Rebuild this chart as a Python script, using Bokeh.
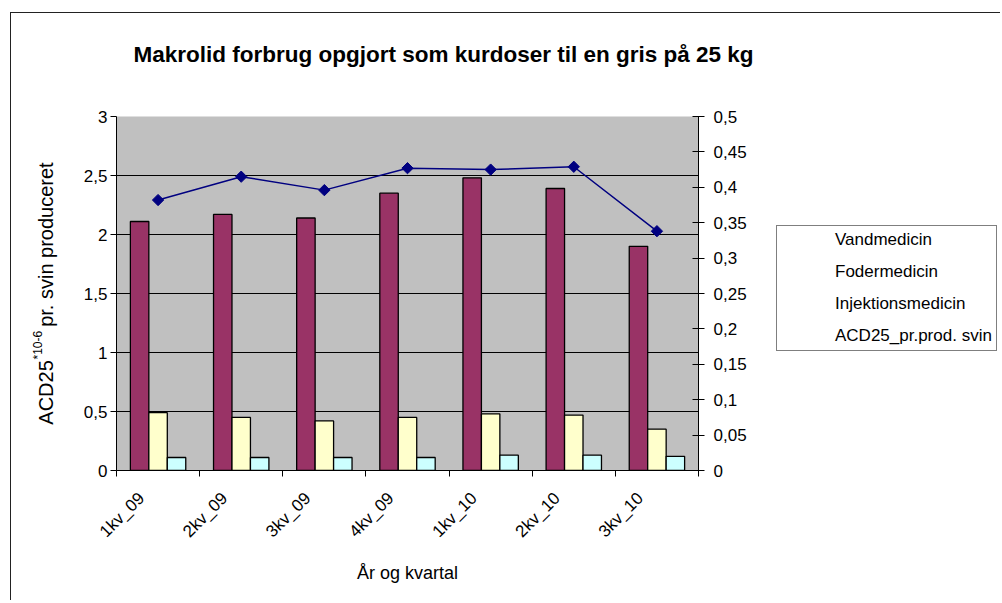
import math
from bokeh.plotting import figure
from bokeh.layouts import row
from bokeh.models import (Range1d, LinearAxis, FixedTicker, CustomJSTickFormatter,
                          Legend, LegendItem, Label)
from bokeh.embed import file_html
from bokeh.resources import INLINE

# ---- data ----
categories = ["1kv_09", "2kv_09", "3kv_09", "4kv_09", "1kv_10", "2kv_10", "3kv_10"]
vandmedicin = [2.11, 2.17, 2.14, 2.35, 2.48, 2.39, 1.90]
fodermedicin = [0.49, 0.45, 0.42, 0.45, 0.48, 0.47, 0.35]
injektionsmedicin = [0.11, 0.11, 0.11, 0.11, 0.13, 0.13, 0.12]
acd25_pr_prod_svin = [0.382, 0.415, 0.396, 0.427, 0.425, 0.429, 0.338]
left_ticks = [0, 0.5, 1, 1.5, 2, 2.5, 3]
left_labels = ["0", "0,5", "1", "1,5", "2", "2,5", "3"]
right_ticks = [0, 0.05, 0.1, 0.15, 0.2, 0.25, 0.3, 0.35, 0.4, 0.45, 0.5]
right_labels = ["0", "0,05", "0,1", "0,15", "0,2", "0,25", "0,3", "0,35", "0,4", "0,45", "0,5"]
series_names = ["Vandmedicin", "Fodermedicin", "Injektionsmedicin", "ACD25_pr.prod. svin"]

FONT = "Liberation Sans"
W, H = 1000, 600
WP = 765                      # width of the chart figure; the legend figure sits to its right
FL, FR, FT, FB = 116, 698, 116, 470
VAND, FODER, INJ, LINE = "#993366", "#FFFFCC", "#CCFFFF", "#000080"

n = len(categories)
centers = [i + 0.5 for i in range(n)]
bw = 0.222
YMAX = left_ticks[-1]

p = figure(width=WP, height=H, frame_width=FR - FL, frame_height=FB - FT,
           output_backend="svg", toolbar_location=None,
           x_range=Range1d(0, n), y_range=Range1d(left_ticks[0], YMAX),
           min_border_left=FL, min_border_right=WP - FR,
           min_border_top=FT, min_border_bottom=H - FB,
           background_fill_color="#C0C0C0", border_fill_color="white", border_fill_alpha=0,
           outline_line_color=None)
p.title.visible = False
# outer chart frame (top and left edges; the rest runs off the page)
p.stylesheets = [
    ":host { background: linear-gradient(#222,#222) 10px 12px / 3000px 1px no-repeat, "
    "linear-gradient(#222,#222) 10px 12px / 1px 3000px no-repeat, white; }"
]

nearest_code = """
let best = 0;
for (let i = 0; i < tks.length; i++) {
  if (Math.abs(tks[i] - tick) < Math.abs(tks[best] - tick)) best = i;
}
return labs[best];
"""

# left axis
ya = p.yaxis[0]
ya.ticker = FixedTicker(ticks=left_ticks)
ya.formatter = CustomJSTickFormatter(args=dict(tks=left_ticks, labs=left_labels), code=nearest_code)
ya.major_tick_out = 6
ya.major_tick_in = 0
ya.minor_tick_out = 0
ya.minor_tick_in = 0
ya.major_label_standoff = 3
ya.major_label_text_font = FONT
ya.major_label_text_font_size = "17px"
ya.major_label_text_color = "black"
ya.axis_line_color = "black"
ya.major_tick_line_color = "black"
ya.axis_label = "ACD25" + "\u00a0" * 6 + "pr. svin produceret"
ya.axis_label_text_font = FONT
ya.axis_label_text_font_size = "20px"
ya.axis_label_text_font_style = "normal"
ya.axis_label_text_color = "black"
ya.axis_label_standoff = 24

# bottom axis (labels at category centres, tick marks at category borders)
xa = p.xaxis[0]
xa.ticker = FixedTicker(ticks=[c - 0.2 for c in centers], minor_ticks=list(range(n + 1)))
xa.formatter = CustomJSTickFormatter(args=dict(cats=categories), code="return cats[Math.floor(tick)];")
xa.major_tick_out = 0
xa.major_tick_in = 0
xa.minor_tick_out = 6
xa.minor_tick_in = 0
xa.minor_tick_line_color = "black"
xa.major_label_orientation = math.pi / 4
xa.major_label_standoff = 19
xa.major_label_text_font = FONT
xa.major_label_text_font_size = "17px"
xa.major_label_text_color = "black"
xa.axis_line_color = "black"
xa.axis_label = "År og kvartal"
xa.axis_label_text_font = FONT
xa.axis_label_text_font_size = "18px"
xa.axis_label_text_font_style = "normal"
xa.axis_label_text_color = "black"
xa.axis_label_standoff = 12

# right axis
p.extra_y_ranges = {"right": Range1d(right_ticks[0], right_ticks[-1])}
ra = LinearAxis(y_range_name="right", ticker=FixedTicker(ticks=right_ticks),
                formatter=CustomJSTickFormatter(args=dict(tks=right_ticks, labs=right_labels), code=nearest_code))
ra.major_tick_in = 6
ra.major_tick_out = 6
ra.minor_tick_in = 0
ra.minor_tick_out = 0
ra.major_label_standoff = 9
ra.major_label_text_font = FONT
ra.major_label_text_font_size = "17px"
ra.major_label_text_color = "black"
ra.axis_line_color = "black"
ra.major_tick_line_color = "black"
p.add_layout(ra, "right")

# grid
p.xgrid.visible = False
p.ygrid.ticker = FixedTicker(ticks=left_ticks[1:-1])
p.ygrid.grid_line_color = "black"
p.ygrid.grid_line_width = 1

# bars
p.vbar(x=[c - bw for c in centers], top=vandmedicin, width=bw, bottom=0,
       fill_color=VAND, line_color="black", line_width=1.3)
p.vbar(x=centers, top=fodermedicin, width=bw, bottom=0,
       fill_color=FODER, line_color="black", line_width=1.3)
p.vbar(x=[c + bw for c in centers], top=injektionsmedicin, width=bw, bottom=0,
       fill_color=INJ, line_color="black", line_width=1.3)

# line
p.line(x=centers, y=acd25_pr_prod_svin, y_range_name="right", line_color=LINE, line_width=1.5)
p.scatter(x=centers, y=acd25_pr_prod_svin, y_range_name="right", marker="square",
          angle=math.pi / 4, size=8, fill_color=LINE, line_color=LINE)


# page pixel -> data coordinates of the main scales (for placing the texts)
def dx(px):
    return (px - FL) / (FR - FL) * n


def dy(py):
    return (FB - py) / (FB - FT) * YMAX


p.add_layout(Label(x=dx(133), y=dy(54),
                   text="Makrolid forbrug opgjort som kurdoser til en gris på 25 kg",
                   text_font=FONT, text_font_size="22.5px", text_font_style="bold",
                   text_baseline="alphabetic", text_align="left", text_color="black"), "above")
# superscript of the y axis title
p.add_layout(Label(x=dx(37), y=dy(359), angle=math.pi / 2,
                   text="*10-6", text_font=FONT, text_font_size="12px",
                   text_baseline="middle", text_align="left", text_color="black"), "above")

# ---- legend figure placed to the right of the chart ----
HQ = 590
q = figure(width=W - WP, height=HQ, output_backend="svg", toolbar_location=None,
           x_range=Range1d(0, W - WP), y_range=Range1d(0, HQ), min_border=0,
           x_axis_location=None, y_axis_location=None,
           background_fill_alpha=0, border_fill_color="white", border_fill_alpha=0,
           outline_line_color=None)
q.title.visible = False
q.grid.visible = False
q.stylesheets = [
    ":host { background: linear-gradient(#222,#222) 0px 12px / 3000px 1px no-repeat, white; }"
]

k_v = q.vbar(x=[], top=[], width=1, fill_color=VAND, line_color="black", line_width=1.3)
k_f = q.vbar(x=[], top=[], width=1, fill_color=FODER, line_color="black", line_width=1.3)
k_i = q.vbar(x=[], top=[], width=1, fill_color=INJ, line_color="black", line_width=1.3)
k_l = q.line(x=[], y=[], line_color=LINE, line_width=1.5)
k_m = q.scatter(x=[], y=[], marker="square", angle=math.pi / 4, size=7,
                fill_color=LINE, line_color=LINE)

legend = Legend(items=[
    LegendItem(label=series_names[0], renderers=[k_v]),
    LegendItem(label=series_names[1], renderers=[k_f]),
    LegendItem(label=series_names[2], renderers=[k_i]),
    LegendItem(label=series_names[3], renderers=[k_l, k_m]),
], location="left")
legend.border_line_color = "black"
legend.border_line_width = 1
legend.background_fill_color = "white"
legend.background_fill_alpha = 1
legend.padding = 4
legend.spacing = 12
legend.margin = 11
legend.glyph_width = 45
legend.glyph_height = 10
legend.label_height = 20
legend.label_standoff = 9
legend.label_text_font = FONT
legend.label_text_font_size = "17px"
legend.label_text_color = "black"
q.add_layout(legend)

# "(ACD25)" part of the title, continuing the chart title line
q.add_layout(Label(x=0, y=HQ - 55, x_units="screen", y_units="screen",
                   text="(ACD25)", text_font=FONT, text_font_size="15px",
                   text_baseline="alphabetic", text_align="left", text_color="black"))

layout = row(p, q)
open("out.html", "w").write(file_html(layout, INLINE))
